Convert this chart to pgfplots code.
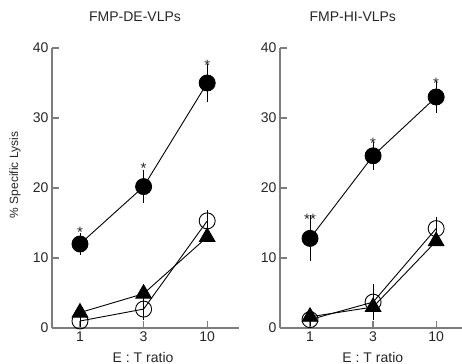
\documentclass[border=0pt]{standalone}
\usepackage{fontspec}
\setmainfont{Liberation Sans}
\usepackage{pgfplots}
\pgfplotsset{compat=1.18}
\usepackage{pgfplotstable}
\definecolor{axgray}{RGB}{125,125,125}

% Left panel: FMP-DE-VLPs
\pgfplotstableread{
x y e
0 12.0 1.0
1 20.2 1.8
2 35.0 2.2
}\LFilled
\pgfplotstableread{
x y e
0 1.0 0.3
1 2.7 1.0
2 15.3 1.0
}\LOpen
\pgfplotstableread{
x y e
0 2.2 0.0
1 4.9 0.0
2 13.0 0.0
}\LTri
\pgfplotstableread{
x y lab
0 14.2 *
1 23.3 *
2 38.0 *
}\LStar

% Right panel: FMP-HI-VLPs
\pgfplotstableread{
x y e
0 12.8 2.7
1 24.6 1.4
2 33.0 1.7
}\RFilled
\pgfplotstableread{
x y e
0 1.2 0.3
1 3.7 2.0
2 14.2 1.1
}\ROpen
\pgfplotstableread{
x y e
0 1.6 0.0
1 3.0 1.0
2 12.4 0.0
}\RTri
\pgfplotstableread{
x y lab
0 16.1 **
1 26.9 *
2 35.4 *
}\RStar

\pgfplotsset{
  panel/.style={
    scale only axis, width=187bp, height=280bp,
    xmin=-0.44, xmax=2.5, ymin=0, ymax=40,
    axis x line*=bottom, axis y line*=left,
    xtick={0,1,2}, xticklabels={1,3,10},
    ytick={0,10,20,30,40},
    tick align=inside, major tick length=7bp,
    axis line style={draw=axgray, line width=1.7bp},
    tick style={draw=axgray, line width=1.2bp},
    ticklabel style={font=\fontsize{14bp}{16bp}\selectfont, text=black!85},
    /pgf/number format/assume math mode=true,
    clip=false,
    title style={font=\fontsize{14bp}{16bp}\selectfont, text=black!85, anchor=base, yshift=21bp},
    xlabel={E : T ratio},
    xlabel style={font=\fontsize{14bp}{16bp}\selectfont, text=black!85, anchor=base, yshift=-34bp},
  },
  ebar/.style={error bars/.cd, y dir=both, y explicit,
    error bar style={line width=0.9bp, black},
    error mark options={mark size=4bp, line width=0.9bp, black}},
  filledS/.style={black, line width=0.9bp, mark=*, mark size=8bp, mark options={fill=black, solid}},
  openS/.style={black, line width=0.9bp, mark=o, mark size=8bp, mark options={solid, line width=0.9bp}},
  triS/.style={black, line width=0.9bp, mark=triangle*, mark size=9bp, mark options={fill=black, solid}},
  starS/.style={draw=none, mark=none, nodes near coords, point meta=explicit symbolic,
    every node near coord/.style={anchor=center, yshift=-3.6bp, inner sep=0pt,
      font=\fontsize{15bp}{15bp}\selectfont, text=black!85}},
}

\begin{document}
\begin{tikzpicture}
\begin{axis}[panel, at={(52bp,36bp)}, anchor=south west,
  title={FMP-DE-VLPs}, title style={at={(axis description cs:0.444,1)}},
  xlabel style={at={(axis description cs:0.487,0)}},
  ylabel={\% Specific Lysis},
  ylabel style={at={(axis description cs:-0.198,0.546)}, anchor=center,
    font=\fontsize{12bp}{14bp}\selectfont, text=black!85},
]
\addplot[filledS, ebar] table[x=x, y=y, y error=e]{\LFilled};
\addplot[openS, ebar] table[x=x, y=y, y error=e]{\LOpen};
\addplot[triS] table[x=x, y=y]{\LTri};
\addplot[starS] table[x=x, y=y, meta=lab]{\LStar};
\end{axis}
\begin{axis}[panel, at={(280bp,36bp)}, anchor=south west,
  xmin=-0.476, xmax=2.41, width=182bp,
  title={FMP-HI-VLPs}, title style={at={(axis description cs:0.40,1)}},
  xlabel style={at={(axis description cs:0.51,0)}},
]
\addplot[filledS, ebar] table[x=x, y=y, y error=e]{\RFilled};
\addplot[openS, ebar] table[x=x, y=y, y error=e]{\ROpen};
\addplot[triS, ebar] table[x=x, y=y, y error=e]{\RTri};
\addplot[starS] table[x=x, y=y, meta=lab]{\RStar};
\end{axis}
\pgfresetboundingbox
\path[use as bounding box] (0,0) rectangle (462bp,364bp);
\end{tikzpicture}
\end{document}
